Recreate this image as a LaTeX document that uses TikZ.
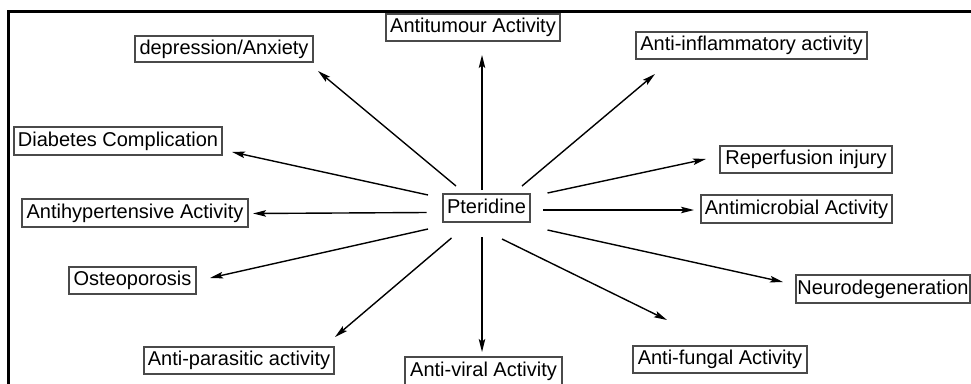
\documentclass[tikz,border=0pt]{standalone}
\usepackage{fontspec}
\setmainfont{Liberation Sans}
\usetikzlibrary{arrows.meta,calc}
\definecolor{boxgray}{HTML}{4A4A4A}
\definecolor{txt}{HTML}{000000}
\tikzset{
  lbl/.style={draw=boxgray, line width=1.3pt, rectangle, inner sep=0pt, text=txt,
    font=\fontsize{20}{24}\selectfont, text height=14.5pt, text depth=4pt, align=center},
  arr/.style={draw=black, line width=1.4pt, -{Stealth[length=13pt,width=6.5pt,inset=2.5pt]}},
  frameline/.style={draw=black, line width=3pt}
}
\begin{document}
\begin{tikzpicture}[x=1pt,y=-1pt]
\useasboundingbox (0,0) rectangle (971,383);
\fill[white] (0,0) rectangle (971,383);
% frame
\coordinate (fc) at (8.5,11);
\coordinate (fr) at (975,11);
\coordinate (fb) at (8.5,390);
\draw[frameline] (fr) -- (fc) -- (fb);
% nodes
\node[lbl, minimum width=87pt,  minimum height=28pt] (p)   at (486.5,208)  {Pteridine};
\node[lbl, minimum width=174pt, minimum height=27pt] (tum) at (473,27.5)   {Antitumour Activity};
\node[lbl, minimum width=178pt, minimum height=26pt] (dep) at (224,49)     {depression/Anxiety};
\node[lbl, minimum width=231pt, minimum height=27pt] (inf) at (751.5,45.5) {Anti-inflammatory activity};
\node[lbl, minimum width=208pt, minimum height=28pt] (dia) at (118,141)    {Diabetes Complication};
\node[lbl, minimum width=172pt, minimum height=27pt] (rep) at (806,159.5)  {Reperfusion injury};
\node[lbl, minimum width=226pt, minimum height=28pt] (hyp) at (135,213)    {Antihypertensive Activity};
\node[lbl, minimum width=191pt, minimum height=28pt] (mic) at (796.5,209)  {Antimicrobial Activity};
\node[lbl, minimum width=127pt, minimum height=27pt] (ost) at (132.5,280.5){Osteoporosis};
\node[lbl, minimum width=174pt, minimum height=28pt] (neu) at (883,289)    {Neurodegeneration};
\node[lbl, minimum width=190pt, minimum height=27pt] (par) at (239,360.5)  {Anti-parasitic activity};
\node[lbl, minimum width=157pt, minimum height=28pt] (vir) at (483.5,371)  {Anti-viral Activity};
\node[lbl, minimum width=174pt, minimum height=27pt] (fun) at (720,359.5)  {Anti-fungal Activity};
% connectors
\draw[arr] ($(p)+(-30.5,-22)$) -- ($(dep)+(94,22)$);
\draw[arr] ($(p)+(-58.5,-13)$) -- ($(dia)+(114,11)$);
\draw[arr] ($(p)+(-4.5,-18)$)  -- ($(tum)+(9,27.5)$);
\draw[arr] ($(p)+(35.5,-22)$)  -- ($(inf)+(-96.5,28.5)$);
\draw[arr] ($(p)+(61,-15)$)    -- ($(rep)+(-100,-0.5)$);
\draw[arr] ($(p)+(-60,4.5)$)   -- ($(hyp)+(118,0.5)$);
\draw[arr] ($(p)+(56.5,2)$)    -- ($(mic)+(-102.5,1)$);
\draw[arr] ($(p)+(61,22)$)     -- ($(neu)+(-100,-7)$);
\draw[arr] ($(p)+(15.5,31)$)   -- ($(fun)+(-53,-39.5)$);
\draw[arr] ($(p)+(-4.5,29)$)   -- ($(vir)+(-1.5,-19)$);
\draw[arr] ($(p)+(-35,30)$)    -- ($(par)+(96,-23.5)$);
\draw[arr] ($(p)+(-58.5,21)$)  -- ($(ost)+(77.5,-2.5)$);
\end{tikzpicture}
\end{document}
